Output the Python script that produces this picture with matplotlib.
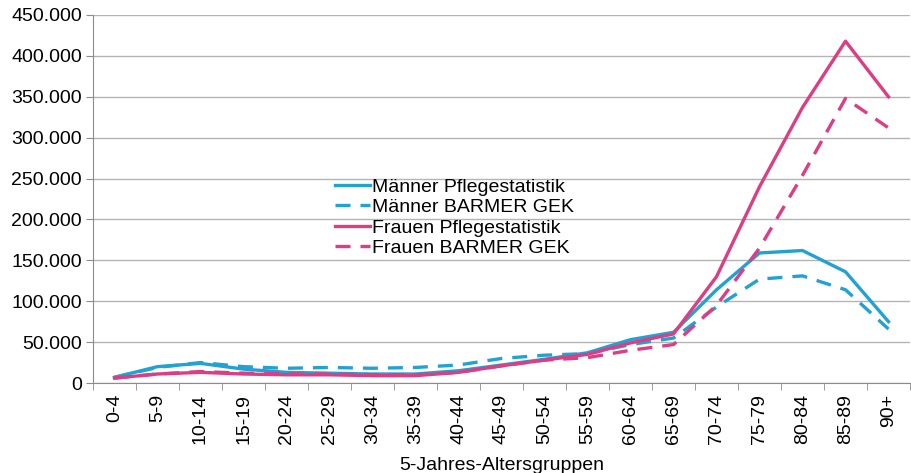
import numpy as np
import matplotlib.pyplot as plt
from matplotlib.ticker import FuncFormatter, FixedLocator

plt.rcParams['font.family'] = ['Liberation Sans', 'DejaVu Sans']

# age groups and values
groups = ["0-4", "5-9", "10-14", "15-19", "20-24", "25-29", "30-34", "35-39", "40-44",
          "45-49", "50-54", "55-59", "60-64", "65-69", "70-74", "75-79", "80-84", "85-89", "90+"]

maenner_pflege = [7000, 20000, 24000, 17000, 13000, 12000, 11000, 11000, 15000,
                  22000, 29000, 37000, 53000, 62000, 114000, 159000, 162000, 136000, 75000]
maenner_barmer = [7000, 19000, 25000, 20000, 18000, 19000, 18000, 19000, 22000,
                  30000, 34000, 36000, 47000, 55000, 93000, 127000, 131000, 114000, 66000]
frauen_pflege = [6000, 11000, 13000, 11000, 10000, 10000, 9000, 9000, 13000,
                 21000, 28000, 35000, 49000, 60000, 130000, 240000, 337000, 418000, 350000]
frauen_barmer = [6000, 11000, 14000, 12000, 11000, 11000, 10000, 10000, 13000,
                 21000, 28000, 31000, 40000, 47000, 95000, 165000, 254000, 348000, 312000]

blue = "#22a2d2"
pink = "#dc3d83"

fig = plt.figure(figsize=(9.11, 4.73), dpi=100)
ax = fig.add_axes([93/911, 1-383/473, 817/911, 368/473])

x = np.arange(len(groups))
ax.plot(x, maenner_pflege, color=blue, lw=2.4, label="Männer Pflegestatistik")
ax.plot(x, maenner_barmer, color=blue, lw=2.4, dashes=(4.5, 3), label="Männer BARMER GEK")
ax.plot(x, frauen_pflege, color=pink, lw=2.4, label="Frauen Pflegestatistik")
ax.plot(x, frauen_barmer, color=pink, lw=2.4, dashes=(4.5, 3), label="Frauen BARMER GEK")

ax.set_xlim(-0.5, len(groups) - 0.5)
ax.set_ylim(0, 450000)
ax.set_yticks(np.arange(0, 450001, 50000))
ax.yaxis.set_major_formatter(FuncFormatter(lambda v, p: "0" if v == 0 else f"{int(v):,}".replace(",", ".")))
ax.grid(axis='y', color='#b4b4b4', lw=1)
ax.set_axisbelow(True)

ax.set_xticks(x)
ax.set_xticklabels(groups, rotation=90)
ax.xaxis.set_minor_locator(FixedLocator(np.arange(-0.5, len(groups), 1)))
ax.tick_params(axis='x', which='major', length=0, pad=8, labelsize=14)
ax.tick_params(axis='x', which='minor', length=5, color='#8c8c8c')
ax.tick_params(axis='y', length=5, color='#8c8c8c', labelsize=14, pad=3)

for s in ['top', 'right']:
    ax.spines[s].set_visible(False)
for s in ['left', 'bottom']:
    ax.spines[s].set_color('#8c8c8c')

ax.set_xlabel("5-Jahres-Altersgruppen", fontsize=14, labelpad=9)

ax.legend(loc='upper left', bbox_to_anchor=(242/817, (383-178)/368), frameon=False,
          fontsize=14, handlelength=1.8, handletextpad=0.1, labelspacing=0.15,
          borderpad=0, borderaxespad=0)

fig.savefig("out.png", dpi=100)
